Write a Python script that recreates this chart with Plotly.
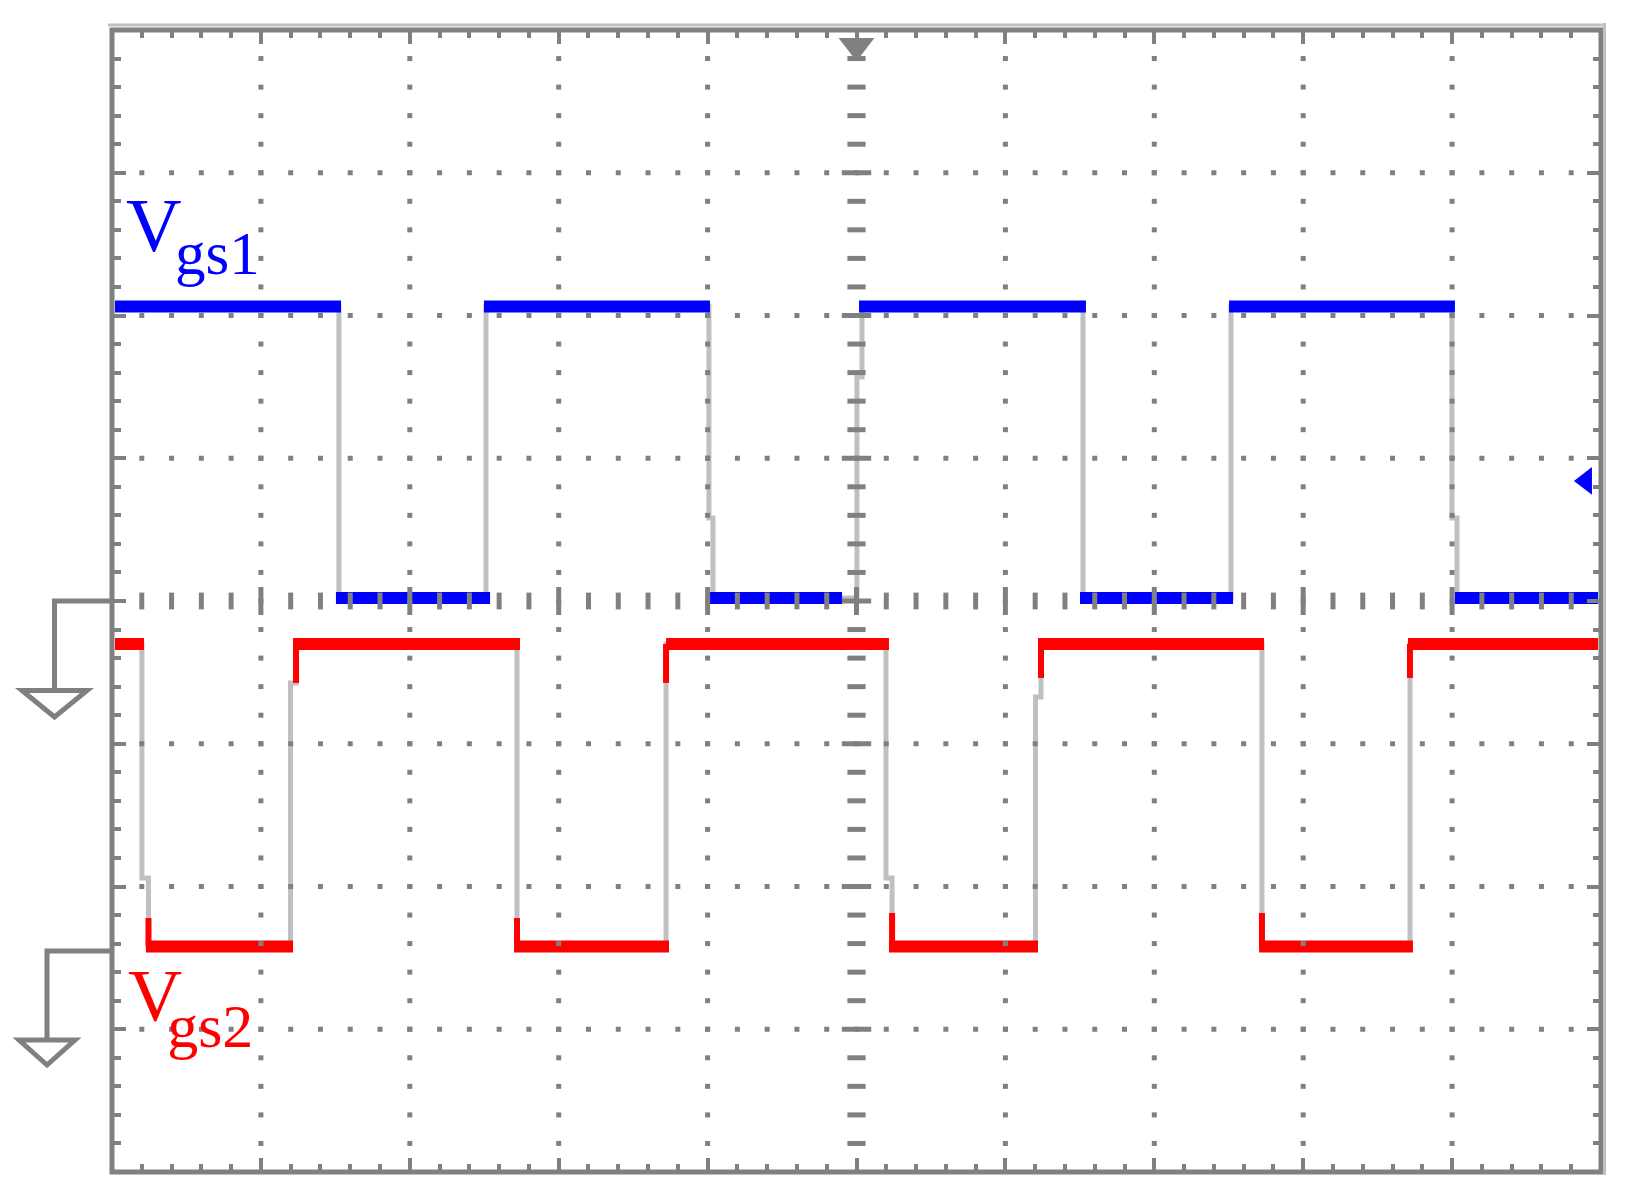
import numpy as np
import plotly.graph_objects as go

# ---------------- data (oscilloscope screen divisions) ----------------
# Channel 1 : Vgs1 (blue)
vgs1_high = 2.063
vgs1_low = 0.021
vgs1_t = [0.020, 1.524, 1.524, 2.512, 2.512, 4.009, 4.009, 4.036, 4.036, 5.003,
          5.003, 5.037, 5.037, 6.521, 6.521, 7.515, 7.515, 8.999, 8.999, 9.033,
          9.033, 9.980]
vgs1_v = [2.063, 2.063, 0.021, 0.021, 2.063, 2.063, 0.581, 0.581, 0.021, 0.021,
          1.569, 1.569, 2.063, 2.063, 0.021, 0.021, 2.063, 2.063, 0.581, 0.581,
          0.021, 0.021]
vgs1_on_start = [0.020, 2.498, 5.017, 7.502]
vgs1_on_end = [1.538, 4.016, 6.541, 9.019]
vgs1_off_start = [1.504, 4.016, 6.501, 9.019]
vgs1_off_end = [2.539, 4.903, 7.529, 9.980]

# Channel 2 : Vgs2 (red)
vgs2_high = -0.301
vgs2_low = -2.420
vgs2_t = [0.020, 0.201, 0.201, 0.245, 0.245, 1.199, 1.199, 1.236, 1.236, 2.720,
          2.720, 3.721, 3.721, 5.198, 5.198, 5.239, 5.239, 6.202, 6.202, 6.239,
          6.239, 7.723, 7.723, 8.717, 8.717, 9.980]
vgs2_v = [-0.301, -0.301, -1.940, -1.940, -2.420, -2.420, -0.574, -0.574, -0.301, -0.301,
          -2.420, -2.420, -0.301, -0.301, -1.940, -1.940, -2.420, -2.420, -0.672, -0.672,
          -0.301, -0.301, -2.420, -2.420, -0.301, -0.301]
vgs2_on_start = [0.020, 1.216, 3.721, 6.219, 8.704]
vgs2_on_end = [0.215, 2.740, 5.218, 7.737, 9.980]
vgs2_off_start = [0.228, 2.700, 5.218, 7.704]
vgs2_off_end = [1.216, 3.741, 6.219, 8.737]
vgs2_fall_t = [0.245, 2.720, 5.239, 7.723]
vgs2_fall_top = [-2.221, -2.221, -2.186, -2.186]
vgs2_rise_t = [1.236, 3.721, 6.239, 8.717]
vgs2_rise_bottom = [-0.574, -0.574, -0.539, -0.539]

# channel ground references and screen markers
ch1_ground = 0.0
ch2_ground = -2.452
trigger_t = [5.0]
trigger_y = [3.89]
ch1_level_t = [9.899]
ch1_level_y = [0.841]

# labels
label1_main, label1_sub = "V", "gs1"
label2_main, label2_sub = "V", "gs2"

# screen graticule
x_range = [0, 10]
y_range = [-4, 4]
major_x = [1, 2, 3, 4, 6, 7, 8, 9]
major_y = [-3, -2, -1, 1, 2, 3]
center_x = 5
center_y = 0

# ---------------- styling ----------------
GRID = '#808080'
TRACE_GRAY = '#c0c0c0'
BLUE = '#0000ff'
RED = '#ff0000'

PAGE_OFF = 8                 # default body margin of the html page
W, H = 1617, 1184
ML, MR, MT, MB = 104, 24, 22, 20
PW, PH = W - ML - MR, H - MT - MB


def xp(px):   # page pixel -> paper
    return (px - PAGE_OFF - ML) / PW


def yp(py):   # page pixel -> paper
    return (H - MB - (py - PAGE_OFF)) / PH


def bands(starts, ends, level):
    xs, ys = [], []
    for s, e in zip(starts, ends):
        xs += [s, e, None]
        ys += [level, level, None]
    return xs, ys


def verticals(ts, a, b):
    xs, ys = [], []
    for t, y0, y1 in zip(ts, a, b):
        xs += [t, t, None]
        ys += [y0, y1, None]
    return xs, ys


fig = go.Figure()

# raw (gray) waveforms
fig.add_trace(go.Scatter(x=vgs1_t, y=vgs1_v, mode='lines',
                         line=dict(color=TRACE_GRAY, width=5), hoverinfo='skip'))
fig.add_trace(go.Scatter(x=vgs2_t, y=vgs2_v, mode='lines',
                         line=dict(color=TRACE_GRAY, width=5), hoverinfo='skip'))

# coloured level segments
bx1, by1 = bands(vgs1_on_start, vgs1_on_end, vgs1_high)
bx2, by2 = bands(vgs1_off_start, vgs1_off_end, vgs1_low)
fig.add_trace(go.Scatter(x=bx1 + bx2, y=by1 + by2, mode='lines',
                         line=dict(color=BLUE, width=12), hoverinfo='skip'))
rx1, ry1 = bands(vgs2_on_start, vgs2_on_end, vgs2_high)
rx2, ry2 = bands(vgs2_off_start, vgs2_off_end, vgs2_low)
fig.add_trace(go.Scatter(x=rx1 + rx2, y=ry1 + ry2, mode='lines',
                         line=dict(color=RED, width=12), hoverinfo='skip'))
vx1, vy1 = verticals(vgs2_fall_t, vgs2_fall_top, [vgs2_low] * len(vgs2_fall_t))
vx2, vy2 = verticals(vgs2_rise_t, vgs2_rise_bottom, [vgs2_high] * len(vgs2_rise_t))
fig.add_trace(go.Scatter(x=vx1 + vx2, y=vy1 + vy2, mode='lines',
                         line=dict(color=RED, width=6), hoverinfo='skip'))

# graticule dots (drawn on top of the traces, like the scope screen)
minor_x = np.round(np.arange(1, 50) * 0.2, 3)
minor_y = np.round(-4 + np.arange(1, 40) * 0.2, 3)
dx, dy = [], []
for gx in major_x:
    dx += [gx] * len(minor_y)
    dy += list(minor_y)
for gy in major_y:
    dx += list(minor_x)
    dy += [gy] * len(minor_x)
fig.add_trace(go.Scatter(x=dx, y=dy, mode='markers',
                         marker=dict(symbol='square', size=5, color=GRID,
                                     line=dict(width=0)), hoverinfo='skip'))

# centre axes with dashes
is_major_y = np.isclose(minor_y, np.round(minor_y))
is_major_x = np.isclose(minor_x, np.round(minor_x))
fig.add_trace(go.Scatter(x=[center_x] * int((~is_major_y).sum()), y=minor_y[~is_major_y],
                         mode='markers', hoverinfo='skip',
                         marker=dict(symbol='line-ew', size=13, line=dict(color=GRID, width=5))))
fig.add_trace(go.Scatter(x=[center_x] * int(is_major_y.sum()), y=minor_y[is_major_y],
                         mode='markers', hoverinfo='skip',
                         marker=dict(symbol='line-ew', size=21, line=dict(color=GRID, width=5))))
fig.add_trace(go.Scatter(x=minor_x[~is_major_x], y=[center_y] * int((~is_major_x).sum()),
                         mode='markers', hoverinfo='skip',
                         marker=dict(symbol='line-ns', size=12, line=dict(color=GRID, width=5))))
fig.add_trace(go.Scatter(x=minor_x[is_major_x], y=[center_y] * int(is_major_x.sum()),
                         mode='markers', hoverinfo='skip',
                         marker=dict(symbol='line-ns', size=20, line=dict(color=GRID, width=5))))

# trigger position and channel-1 level markers
fig.add_trace(go.Scatter(x=trigger_t, y=trigger_y, mode='markers', hoverinfo='skip',
                         marker=dict(symbol='triangle-down', size=31, color=GRID,
                                     line=dict(width=0))))
fig.add_trace(go.Scatter(x=ch1_level_t, y=ch1_level_y, mode='markers', hoverinfo='skip',
                         marker=dict(symbol='triangle-left', size=24, color=BLUE,
                                     line=dict(width=0))))

# ---------------- shapes: frame and ground symbols ----------------
shapes = []
shapes.append(dict(type='rect', xref='paper', yref='paper', x0=0, x1=1, y0=0, y1=1,
                   line=dict(color=GRID, width=5), fillcolor='rgba(0,0,0,0)', layer='above'))
shapes.append(dict(type='line', xref='paper', yref='paper', x0=xp(108), x1=xp(1606),
                   y0=yp(25), y1=yp(25), line=dict(color=TRACE_GRAY, width=3)))
shapes.append(dict(type='line', xref='paper', yref='paper', x0=xp(1604.5), x1=xp(1604.5),
                   y0=yp(1175), y1=yp(23), line=dict(color=TRACE_GRAY, width=3)))


def ground_symbol(level, stem_x, stem_len, half_w, tri_h):
    gy = (level - y_range[0]) / (y_range[1] - y_range[0])
    py = H - MB - gy * PH + PAGE_OFF          # page pixel of the ground level
    ptop = py + stem_len
    path = (f"M {xp(112)},{gy} L {xp(stem_x)},{gy} L {xp(stem_x)},{yp(ptop)} "
            f"M {xp(stem_x - half_w)},{yp(ptop)} L {xp(stem_x + half_w)},{yp(ptop)} "
            f"L {xp(stem_x)},{yp(ptop + tri_h)} Z")
    return dict(type='path', xref='paper', yref='paper', path=path,
                line=dict(color=GRID, width=5), fillcolor='rgba(0,0,0,0)')


shapes.append(ground_symbol(ch1_ground, 54.5, 89.5, 32.5, 26.5))
shapes.append(ground_symbol(ch2_ground, 47, 89, 28, 25))

# ---------------- annotations (V with lowered subscript) ----------------
FONT = 'Liberation Serif'


def label(main, sub, kern, drop, sub_size):
    return (f"<span style='letter-spacing:{kern}px'>{main}</span>"
            f"<span style='font-size:{sub_size}px;baseline-shift:-{drop}px'>{sub}</span>")


# label 1: V ink left 126, V baseline 252, subscript baseline 275
# label 2: V ink left 128, V baseline 1022, subscript baseline 1048
annotations = [
    dict(text=label(label1_main, label1_sub, -6.5, 23, 61),
         xref='paper', yref='paper', x=xp(123.8), y=yp(252 + 23 + 13.2 + 1),
         xanchor='left', yanchor='bottom', showarrow=False,
         font=dict(family=FONT, size=77, color=BLUE)),
    dict(text=label(label2_main, label2_sub, -15, 26, 62),
         xref='paper', yref='paper', x=xp(125.8), y=yp(1022 + 26 + 13.4 + 1),
         xanchor='left', yanchor='bottom', showarrow=False,
         font=dict(family=FONT, size=75, color=RED)),
]

axis_common = dict(showgrid=False, zeroline=False, showticklabels=False, showline=False,
                   ticks='inside', tick0=0, dtick=1, ticklen=14, tickwidth=4,
                   tickcolor=GRID, mirror='ticks', fixedrange=True)

fig.update_layout(
    width=W, height=H,
    margin=dict(l=ML, r=MR, t=MT, b=MB, pad=0),
    paper_bgcolor='white', plot_bgcolor='white',
    showlegend=False,
    xaxis=dict(range=x_range, **axis_common,
               minor=dict(ticks='inside', tick0=0, dtick=0.2, ticklen=8, tickwidth=4,
                          tickcolor=GRID, showgrid=False)),
    yaxis=dict(range=y_range, **axis_common,
               minor=dict(ticks='inside', tick0=0, dtick=0.2, ticklen=8.5, tickwidth=4,
                          tickcolor=GRID, showgrid=False)),
    shapes=shapes,
    annotations=annotations,
)

fig.write_html("out.html")
